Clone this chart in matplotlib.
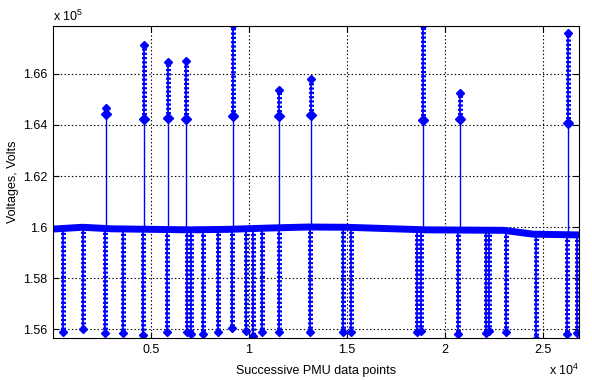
import numpy as np
import matplotlib.pyplot as plt

plt.rcParams['font.family'] = ['Liberation Sans', 'DejaVu Sans']
plt.rcParams['mathtext.default'] = 'regular'
plt.rcParams['lines.scale_dashes'] = False

# baseline level of the signal (volts), read at a few sample positions
base_x = [1, 1500, 3000, 5000, 7000, 9000, 11000, 13000, 15000, 17000, 19000, 21000, 23000, 24500, 26840]
base_v = [159920, 159990, 159930, 159910, 159890, 159910, 159960, 160000, 159990, 159940, 159890, 159880, 159870, 159720, 159690]

# voltage dips: sample index and lowest voltage
dip_x = [526, 1515, 2653, 3587, 4607, 5832, 6821, 7041, 7668, 8434, 9117, 9847, 10189, 10679,
         11546, 13112, 14781, 15204, 18587, 18776, 20679, 22092, 22245, 23112, 24643, 26209, 26750]
dip_v = [155870, 155990, 155840, 155840, 155770, 155890, 155890, 155790, 155790, 155890, 156040, 155940, 155730, 155890,
         155890, 155890, 155890, 155890, 155890, 155940, 155790, 155840, 155940, 155890, 155600, 155790, 155840]

# voltage swells: sample index, first jump level, peak voltage
spike_x = [2720, 4660, 5885, 6800, 9184, 11546, 13163, 18890, 20780, 26276]
spike_knee = [164420, 164220, 164260, 164220, 164360, 164340, 164390, 164200, 164240, 164090]
spike_v = [164680, 167140, 166460, 166500, 167900, 165370, 165800, 167900, 165250, 167600]

yticks = [156000, 158000, 160000, 162000, 164000, 166000]
ytick_labels = ['1.56', '1.58', '1.6', '1.62', '1.64', '1.66']
xticks = [5000, 10000, 15000, 20000, 25000]
xtick_labels = ['0.5', '1', '1.5', '2', '2.5']

blue = (0, 0, 1)
fs = 9

fig = plt.figure(figsize=(5.92, 3.8), dpi=100)
ax = fig.add_axes([53/592, 42/380, 526/592, 312/380])

#dips first, then the thick baseline band on top
for x, v in zip(dip_x, dip_v):
    top = np.interp(x, base_x, base_v)
    ax.plot([x, x], [top, v], color=blue, lw=1.3)
    ax.plot([x, x], [top, v], color=blue, lw=3.6, dashes=(1.6, 1.5), solid_capstyle='butt')
    ax.plot([x], [v], 'D', color=blue, ms=4.5)

for x, k, v in zip(spike_x, spike_knee, spike_v):
    bottom = np.interp(x, base_x, base_v)
    ax.plot([x, x], [bottom, k], color=blue, lw=1.0)
    ax.plot([x, x], [k, v], color=blue, lw=1.3)
    ax.plot([x, x], [k, v], color=blue, lw=3.6, dashes=(1.6, 1.5), solid_capstyle='butt')
    ax.plot([x], [k], 'D', color=blue, ms=5)
    ax.plot([x], [v], 'D', color=blue, ms=4)

ax.plot(base_x, base_v, color=blue, lw=5.0, solid_joinstyle='round')

ax.set_xlim(1, 26840)
ax.set_ylim(155650, 167880)
ax.set_xticks(xticks)
ax.set_xticklabels(xtick_labels)
ax.set_yticks(yticks)
ax.set_yticklabels(ytick_labels)
ax.tick_params(direction='in', top=True, right=True, length=4, width=0.8, labelsize=fs, pad=4)
ax.grid(True, color='k', linestyle=':', lw=0.8)
ax.set_axisbelow(True)
for s in ax.spines.values():
    s.set_linewidth(0.8)

ax.set_xlabel('Successive PMU data points', fontsize=fs, labelpad=7)
ax.set_ylabel('Voltages, Volts', fontsize=fs, labelpad=3)

fig.text(53/592, 1 - 21/380, r'x 10$^{5}$', fontsize=fs, ha='left', va='baseline')
fig.text(579/592, 1 - 375/380, r'x 10$^{4}$', fontsize=fs, ha='right', va='baseline')

plt.savefig('out.png', dpi=100)
